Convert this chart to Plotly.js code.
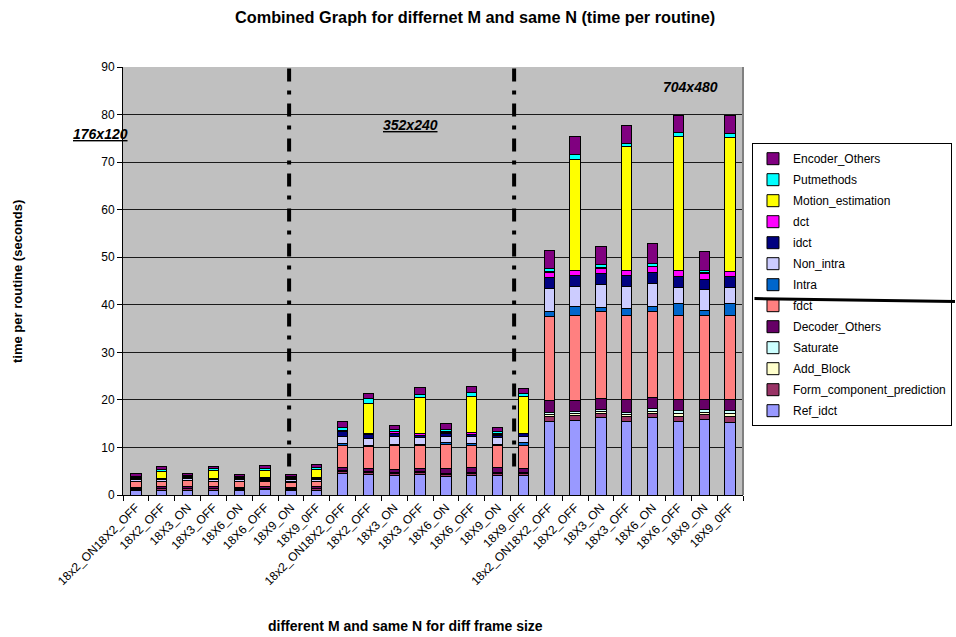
<!DOCTYPE html>
<html>
<head>
<meta charset="utf-8">
<script src="https://cdn.plot.ly/plotly-3.0.1.min.js"></script>
<style>
  html, body { margin: 0; padding: 0; background: #ffffff; }
  #chart { width: 956px; height: 637px; }
</style>
</head>
<body>
<div id="chart"></div>
<script>
// Category labels: three frame sizes, eight encoder settings each
const groupLabels = ["18x2_ON18X2_OFF", "18X2_OFF", "18X3_ON", "18X3_OFF", "18X6_ON", "18X6_OFF", "18X9_ON", "18X9_0FF"];
const tickLabels = groupLabels.concat(groupLabels, groupLabels);
const frameSizes = ["176x120", "352x240", "704x480"];

// Time per routine (seconds), stacked from the bottom up
const Ref_idct = [0.9, 1.0, 1.0, 1.0, 0.9, 1.1, 0.9, 1.0,
                  4.5, 4.3, 4.1, 4.3, 3.95, 4.1, 4.2, 4.2,
                  15.5, 15.7, 16.2, 15.5, 16.2, 15.5, 15.8, 15.3];
const Form_component_prediction = [0.3, 0.3, 0.3, 0.3, 0.3, 0.3, 0.3, 0.3,
                  0.4, 0.4, 0.45, 0.4, 0.4, 0.4, 0.4, 0.4,
                  1.1, 1.0, 1.0, 1.1, 1.0, 1.0, 1.1, 1.2];
const Add_Block = [0.02, 0.02, 0.02, 0.02, 0.02, 0.02, 0.02, 0.02,
                  0.05, 0.05, 0.05, 0.05, 0.05, 0.05, 0.05, 0.05,
                  0.4, 0.4, 0.4, 0.4, 0.4, 0.6, 0.5, 0.6];
const Saturate = [0.05, 0.05, 0.05, 0.05, 0.05, 0.05, 0.05, 0.05,
                  0.1, 0.1, 0.1, 0.1, 0.1, 0.1, 0.1, 0.1,
                  0.4, 0.4, 0.4, 0.4, 0.5, 0.6, 0.6, 0.6];
const Decoder_Others = [0.4, 0.4, 0.4, 0.4, 0.4, 0.4, 0.4, 0.4,
                  0.65, 0.65, 0.65, 0.7, 1.05, 1.05, 0.95, 0.75,
                  2.4, 2.3, 2.3, 2.6, 2.4, 2.3, 2.1, 2.3];
const fdct = [1.1, 1.0, 1.2, 1.0, 1.1, 1.0, 1.0, 1.0,
                  4.7, 4.7, 5.05, 4.85, 5.05, 4.7, 4.7, 4.9,
                  17.7, 18.0, 18.2, 17.7, 18.0, 17.7, 17.7, 17.7];
const Intra = [0.15, 0.1, 0.1, 0.1, 0.1, 0.1, 0.15, 0.15,
                  0.5, 0.2, 0.2, 0.2, 0.35, 0.4, 0.2, 0.6,
                  1.0, 1.8, 1.0, 1.6, 1.1, 2.6, 1.0, 2.6];
const Non_intra = [0.35, 0.3, 0.35, 0.3, 0.3, 0.3, 0.35, 0.3,
                  1.4, 1.5, 1.6, 1.4, 1.35, 1.4, 1.4, 1.2,
                  4.9, 4.3, 4.7, 4.6, 4.9, 3.4, 4.5, 3.4];
const idct = [0.3, 0.25, 0.25, 0.25, 0.3, 0.25, 0.3, 0.3,
                  1.0, 0.8, 0.7, 0.5, 0.7, 0.6, 0.5, 0.7,
                  2.3, 2.2, 2.3, 2.2, 2.3, 2.3, 2.1, 2.2];
const dct = [0.1, 0.1, 0.1, 0.1, 0.1, 0.1, 0.1, 0.1,
                  0.3, 0.3, 0.4, 0.5, 0.2, 0.4, 0.3, 0.1,
                  1.1, 1.1, 1.2, 1.2, 1.2, 1.2, 1.2, 1.1];
const Motion_estimation = [0.02, 1.5, 0.02, 1.55, 0.02, 1.5, 0.02, 1.7,
                  0.05, 6.3, 0.05, 7.6, 0.05, 7.5, 0.05, 7.7,
                  0.1, 23.4, 0.1, 25.9, 0.1, 28.1, 0.1, 28.2];
const Putmethods = [0.3, 0.4, 0.3, 0.4, 0.25, 0.4, 0.3, 0.4,
                  0.55, 0.9, 0.35, 0.6, 0.45, 0.9, 0.45, 0.7,
                  0.8, 1.0, 0.6, 0.7, 0.6, 0.9, 0.6, 0.9];
const Encoder_Others = [0.5, 0.6, 0.4, 0.6, 0.5, 0.6, 0.5, 0.6,
                  1.2, 1.1, 0.9, 1.4, 1.3, 1.2, 1.0, 1.1,
                  3.7, 3.8, 3.8, 3.9, 4.2, 3.5, 3.9, 3.6];

// Series in stacking order, bottom first
const series = [
  { name: "Ref_idct", values: Ref_idct, color: "#9999FF" },
  { name: "Form_component_prediction", values: Form_component_prediction, color: "#993366" },
  { name: "Add_Block", values: Add_Block, color: "#FFFFCC" },
  { name: "Saturate", values: Saturate, color: "#CCFFFF" },
  { name: "Decoder_Others", values: Decoder_Others, color: "#660066" },
  { name: "fdct", values: fdct, color: "#FF8080" },
  { name: "Intra", values: Intra, color: "#0066CC" },
  { name: "Non_intra", values: Non_intra, color: "#CCCCFF" },
  { name: "idct", values: idct, color: "#000080" },
  { name: "dct", values: dct, color: "#FF00FF" },
  { name: "Motion_estimation", values: Motion_estimation, color: "#FFFF00" },
  { name: "Putmethods", values: Putmethods, color: "#00FFFF" },
  { name: "Encoder_Others", values: Encoder_Others, color: "#800080" }
];

const xPos = tickLabels.map((_, i) => i);

// one legend group per series so the legend rows can be spaced with tracegroupgap;
// the legend lists the top of the stack first
const traces = series.map((s, k) => ({
  type: "bar",
  name: s.name,
  x: xPos,
  y: s.values,
  legendgroup: "s" + k,
  legendrank: series.length - k,
  marker: { color: s.color, line: { color: "#000000", width: 1 } },
  hoverinfo: "name+y"
}));

// Separators between the frame-size groups (x in category units, y in seconds)
const separators = [5.93, 14.64];
const separatorBottom = 6;

const font = "Liberation Sans, Arial, sans-serif";

const shapes = separators.map(xv => ({
  type: "line", xref: "x", yref: "y",
  x0: xv, x1: xv, y0: separatorBottom, y1: 90,
  line: { color: "#000000", width: 4, dash: "13px,9px,4px,9px" }
}));
// right edge of the plot area
shapes.push({ type: "line", xref: "paper", yref: "paper", x0: 1, x1: 1, y0: 0, y1: 1,
  line: { color: "#808080", width: 2 } });

const layout = {
  width: 956,
  height: 637,
  margin: { l: 123, r: 213, t: 67, b: 142, autoexpand: false },
  paper_bgcolor: "#ffffff",
  plot_bgcolor: "#C0C0C0",
  font: { family: font, size: 12, color: "#000000" },
  barmode: "stack",
  bargap: 0.6,
  showlegend: true,
  title: {
    text: "<b>Combined Graph for differnet M and same N (time per routine)</b>",
    font: { family: font, size: 16.3, color: "#000000" },
    xref: "container", x: 0.497, xanchor: "center",
    yref: "container", y: 0.973, yanchor: "middle"
  },
  xaxis: {
    range: [-0.5, 23.5],
    tickmode: "array",
    tickvals: xPos,
    ticktext: tickLabels,
    tickangle: -45,
    ticks: "",
    tickfont: { family: font, size: 12, color: "#000000" },
    minor: { tick0: -0.5, dtick: 1, ticks: "outside", ticklen: 5, tickcolor: "#000000", tickwidth: 1 },
    showgrid: false,
    showline: true,
    linecolor: "#000000",
    linewidth: 1,
    zeroline: false,
    fixedrange: true
  },
  yaxis: {
    range: [0, 90],
    dtick: 10,
    ticks: "outside",
    ticklen: 5,
    tickcolor: "#000000",
    tickfont: { family: font, size: 12, color: "#000000" },
    showgrid: true,
    gridcolor: "#1a1a1a",
    gridwidth: 1,
    showline: true,
    linecolor: "#000000",
    linewidth: 1,
    zeroline: false,
    fixedrange: true
  },
  legend: {
    x: 1.0145, xanchor: "left",
    y: 0.822, yanchor: "top",
    traceorder: "grouped",
    tracegroupgap: 2,
    bgcolor: "#ffffff",
    bordercolor: "#000000",
    borderwidth: 1,
    font: { family: font, size: 12, color: "#000000" }
  },
  shapes: shapes,
  annotations: [
    { text: "<b><i><u>" + frameSizes[0] + "</u></i></b>", xref: "paper", yref: "paper",
      x: -0.0355, y: 0.843, xanchor: "center", yanchor: "middle", showarrow: false,
      font: { family: font, size: 14 } },
    { text: "<b><i><u>" + frameSizes[1] + "</u></i></b>", xref: "paper", yref: "paper",
      x: 0.463, y: 0.864, xanchor: "center", yanchor: "middle", showarrow: false,
      font: { family: font, size: 14 } },
    { text: "<b><i>" + frameSizes[2] + "</i></b>", xref: "paper", yref: "paper",
      x: 0.916, y: 0.953, xanchor: "center", yanchor: "middle", showarrow: false,
      font: { family: font, size: 14 } },
    { text: "<b>time per routine (seconds)</b>", xref: "paper", yref: "paper",
      x: -0.171, y: 0.5, xanchor: "center", yanchor: "middle", textangle: -90, showarrow: false,
      font: { family: font, size: 13 } },
    { text: "<b>different M and same N for diff frame size</b>", xref: "paper", yref: "paper",
      x: (405 - 123) / 620, y: -(627 - 495.5) / 428.5, xanchor: "center", yanchor: "middle",
      showarrow: false, font: { family: font, size: 14 } },
    // stroke across the legend
    { text: " ", xref: "paper", yref: "paper", x: 1.3435, y: 0.452,
      ax: -202, ay: -3, showarrow: true, arrowhead: 0, arrowwidth: 3, arrowcolor: "#000000",
      borderpad: 0, font: { size: 1 } }
  ]
};

Plotly.newPlot("chart", traces, layout, { displayModeBar: false, staticPlot: true });
</script>
</body>
</html>
